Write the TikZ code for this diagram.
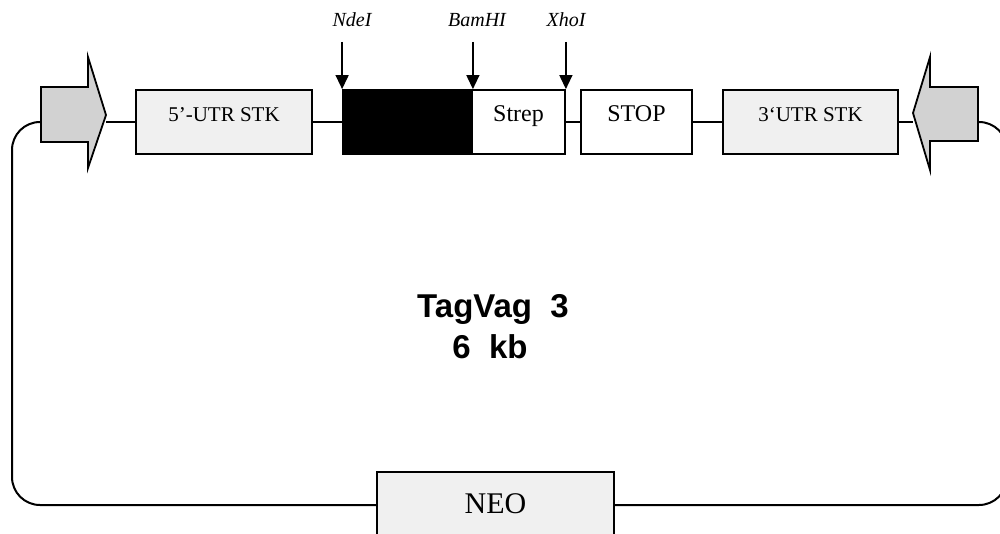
\documentclass[tikz,border=0pt]{standalone}
\usepackage{fontspec}
\setmainfont{Liberation Serif}
\setsansfont{Liberation Sans}
\usetikzlibrary{arrows.meta}

\tikzset{
  gene/.style={draw, line width=0.9pt, fill=gray!12, minimum height=32pt, inner sep=0pt,
    text height=1.2ex, text depth=1.2ex, font=\fontsize{10.5}{12}\selectfont},
  site/.style={-{Triangle[length=7pt,width=6.5pt]}, line width=0.7pt},
  sitelabel/.style={anchor=base, font=\fontsize{10}{12}\selectfont\itshape},
  promoter/.style={draw, line width=0.9pt, fill=gray!35},
  backbone/.style={line width=1pt},
  title/.style={anchor=base, font=\sffamily\bfseries\fontsize{16.5}{19}\selectfont},
}

\begin{document}
\begin{tikzpicture}[x=0.5pt, y=-0.5pt]
    \clip (0,0) rectangle (1000,534);

    % 基因盒
    \node[gene, minimum width=88pt] (utr5) at (224,122) {5'-UTR STK};
    \node[gene, fill=black, minimum width=64.5pt] (insert) at (407.5,122) {};
    \node[gene, fill=white, minimum width=46.5pt, font=\fontsize{12}{14}\selectfont] (strep) at (518.5,122) {Strep};
    \node[gene, fill=white, minimum width=55.5pt, font=\fontsize{12}{14}\selectfont] (stop) at (636.5,122) {STOP};
    \node[gene, minimum width=87.5pt] (utr3) at (810.5,122) {3`UTR STK};
    \node[gene, minimum width=118.5pt, minimum height=33pt, text height=8pt, text depth=0pt,
      font=\fontsize{15}{17}\selectfont] (neo) at (495.5,505) {NEO};

    % 启动子箭头的端点
    \coordinate (ltip) at (106,115);
    \coordinate (lback) at (41,122);
    \coordinate (rtip) at (913,113);
    \coordinate (rback) at (978,122);

    % 骨架
    \draw[backbone] (ltip |- utr5) -- (utr5);
    \draw[backbone] (utr5) -- (insert);
    \draw[backbone] (strep) -- (stop);
    \draw[backbone] (stop) -- (utr3);
    \draw[backbone] (utr3) -- (rtip |- utr3);
    \draw[backbone, rounded corners=14pt] (lback) -- (12,122) -- (12,505) -- (neo);
    \draw[backbone, rounded corners=14pt] (neo) -- (1007,505) -- (1007,122) -- (rback);

    % 启动子
    \draw[promoter] (41,87) -- (88,87) -- (88,57) -- (ltip) -- (88,168) -- (88,142) -- (41,142) -- cycle;
    \draw[promoter] (978,87) -- (930,87) -- (930,57) -- (rtip) -- (930,170) -- (930,141) -- (978,141) -- cycle;

    % 酶切位点
    \coordinate (siteTop) at (0,42);
    \node[sitelabel] (nde) at (352,27) {NdeI};
    \node[sitelabel] (bam) at (477,27) {BamHI};
    \node[sitelabel] (xho) at (566,27) {XhoI};
    \draw[site] (insert.north west |- siteTop) -- (insert.north west);
    \draw[site] (insert.north east |- siteTop) -- (insert.north east);
    \draw[site] (strep.north east |- siteTop) -- (strep.north east);

    % 质粒名称
    \node[title] (name) at (493,317) {TagVag~~3};
    \node[title] (size) at (490,358) {6~~kb};
\end{tikzpicture}
\end{document}
